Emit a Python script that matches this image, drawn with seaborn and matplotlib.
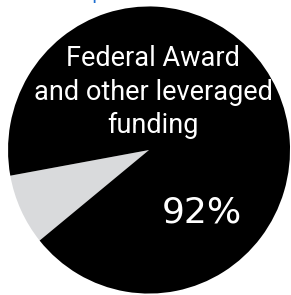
import matplotlib
matplotlib.use("Agg")
import matplotlib.pyplot as plt
import seaborn as sns

# shares of funding
labels = ["Other", "Federal Award and other leveraged funding"]
shares = [8, 92]
colors = ["#d9dadc", "#000000"]
big_label = "Federal Award\nand other leveraged\nfunding"
pct_label = "92%"

sns.set_style("white")

fig = plt.figure(figsize=(2.91, 2.95), dpi=100)
ax = fig.add_axes([0, 0, 1, 1])

ax.pie(shares, colors=colors, startangle=190.3, counterclock=True,
       radius=1.0, wedgeprops=dict(linewidth=0))
ax.set_aspect("auto")
ax.set_xlim(-1.057, 1.007)
ax.set_ylim(-1.010, 1.045)
ax.axis("off")

ax.text(0.03, 0.118, big_label, color="white", ha="center", va="baseline",
        fontsize=19.5, linespacing=1.3, family="Roboto")
ax.text(0.376, -0.502, pct_label, color="white", ha="center", va="baseline",
        fontsize=26, family="DejaVu Sans")

# bit of the cut-off heading above the chart
ax.text(-0.411, 1.052, "p", color="#1f6fd0", ha="left", va="baseline",
        fontsize=14, clip_on=False)

fig.savefig("out.png", dpi=100)
